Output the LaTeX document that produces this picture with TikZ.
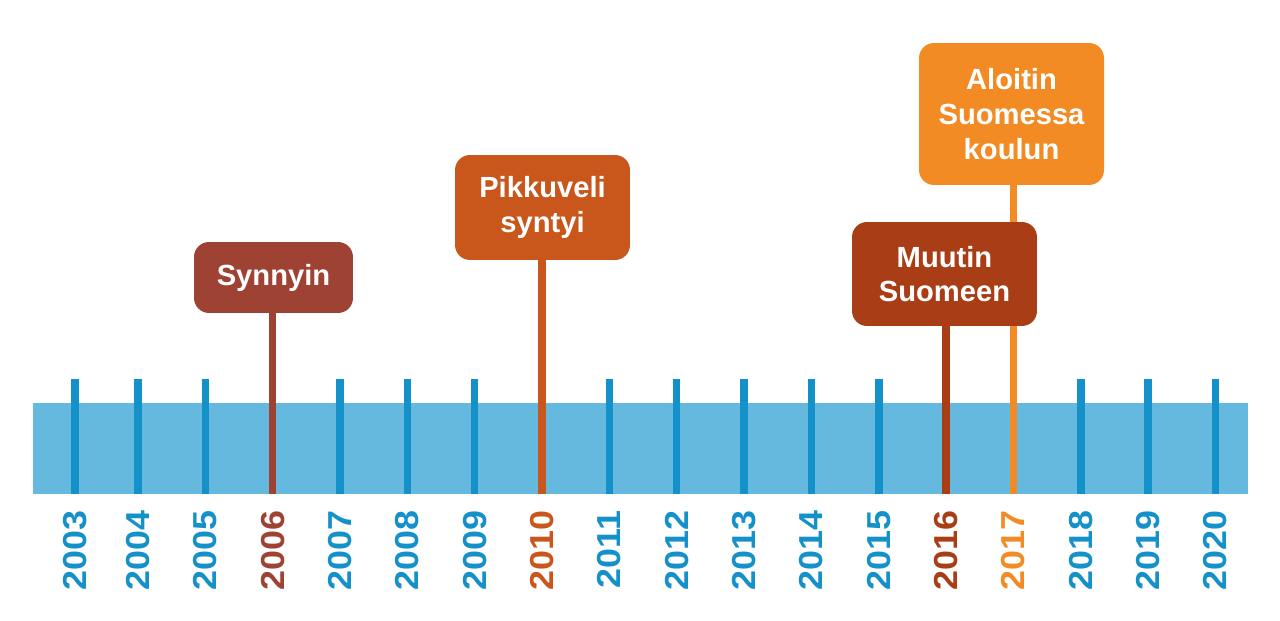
\documentclass[tikz,border=0pt]{standalone}
\usepackage{fontspec}
\setmainfont{Liberation Sans}
\newfontfamily\yearfont[FakeStretch=1.08]{Liberation Sans}
\definecolor{bandblue}{HTML}{66B9DE}
\definecolor{tickblue}{HTML}{1591C9}
\definecolor{synred}{HTML}{9E4234}
\definecolor{pikorange}{HTML}{C9561A}
\definecolor{muubrown}{HTML}{A93D15}
\definecolor{aloorange}{HTML}{F28B23}
\tikzset{
	event/.style={
			fill=#1, text=white, rounded corners=0.3cm, inner sep=0pt,
			align=center, font=\bfseries\fontsize{16.6}{19.8}\selectfont
		},
	stem/.style={draw=#1, line width=0.15cm},
	year/.style={
			text=#1, rotate=90, anchor=east, inner sep=0pt,
			font=\yearfont\bfseries\fontsize{18.9}{20}\selectfont
		}
}

\begin{document}
\begin{tikzpicture}[x=0.02cm, y=-0.02cm]
        \useasboundingbox (0, 0) rectangle (1280, 621);
        \fill [bandblue] (33, 403) rectangle (1248, 494);
        % years along the band
        \foreach \yr/\xx/\col in {2003/75/tickblue, 2004/138/tickblue, 2005/205.3/tickblue,
                2006/272.7/synred, 2007/340/tickblue, 2008/407.4/tickblue, 2009/474.7/tickblue,
                2010/542/pikorange, 2011/609.4/tickblue, 2012/676.7/tickblue, 2013/744/tickblue,
                2014/811.4/tickblue, 2015/878.8/tickblue, 2016/946.1/muubrown,
                2017/1013.5/aloorange, 2018/1080.8/tickblue, 2019/1148.2/tickblue,
                2020/1215.5/tickblue} {
            \coordinate (t\yr) at (\xx, 379);
            \coordinate (b\yr) at (\xx, 494);
            \node [year=\col] (y\yr) at (\xx, 510) {\yr};
        }
        \foreach \yr in {2003,2004,2005,2007,2008,2009,2011,2012,2013,2014,2015,2018,2019,2020}
            \draw [stem=tickblue] (t\yr) -- (b\yr);
        % events
        \node [event=aloorange, minimum width=3.7cm, minimum height=2.84cm] (alo) at (1011.5, 114) {Aloitin\\Suomessa\\koulun};
        \draw [stem=aloorange] (b2017 |- alo.south) -- (b2017);
        \node [event=muubrown, minimum width=3.7cm, minimum height=2.08cm] (muu) at (944.5, 274) {Muutin\\Suomeen};
        \draw [stem=muubrown] (b2016 |- muu.south) -- (b2016);
        \node [event=pikorange, minimum width=3.5cm, minimum height=2.1cm] (pik) at (542.5, 207.5) {Pikkuveli\\syntyi};
        \draw [stem=pikorange] (b2010 |- pik.south) -- (b2010);
        \node [event=synred, minimum width=3.18cm, minimum height=1.42cm] (syn) at (273.5, 277.5) {Synnyin};
        \draw [stem=synred] (b2006 |- syn.south) -- (b2006);
    \end{tikzpicture}
\end{document}
